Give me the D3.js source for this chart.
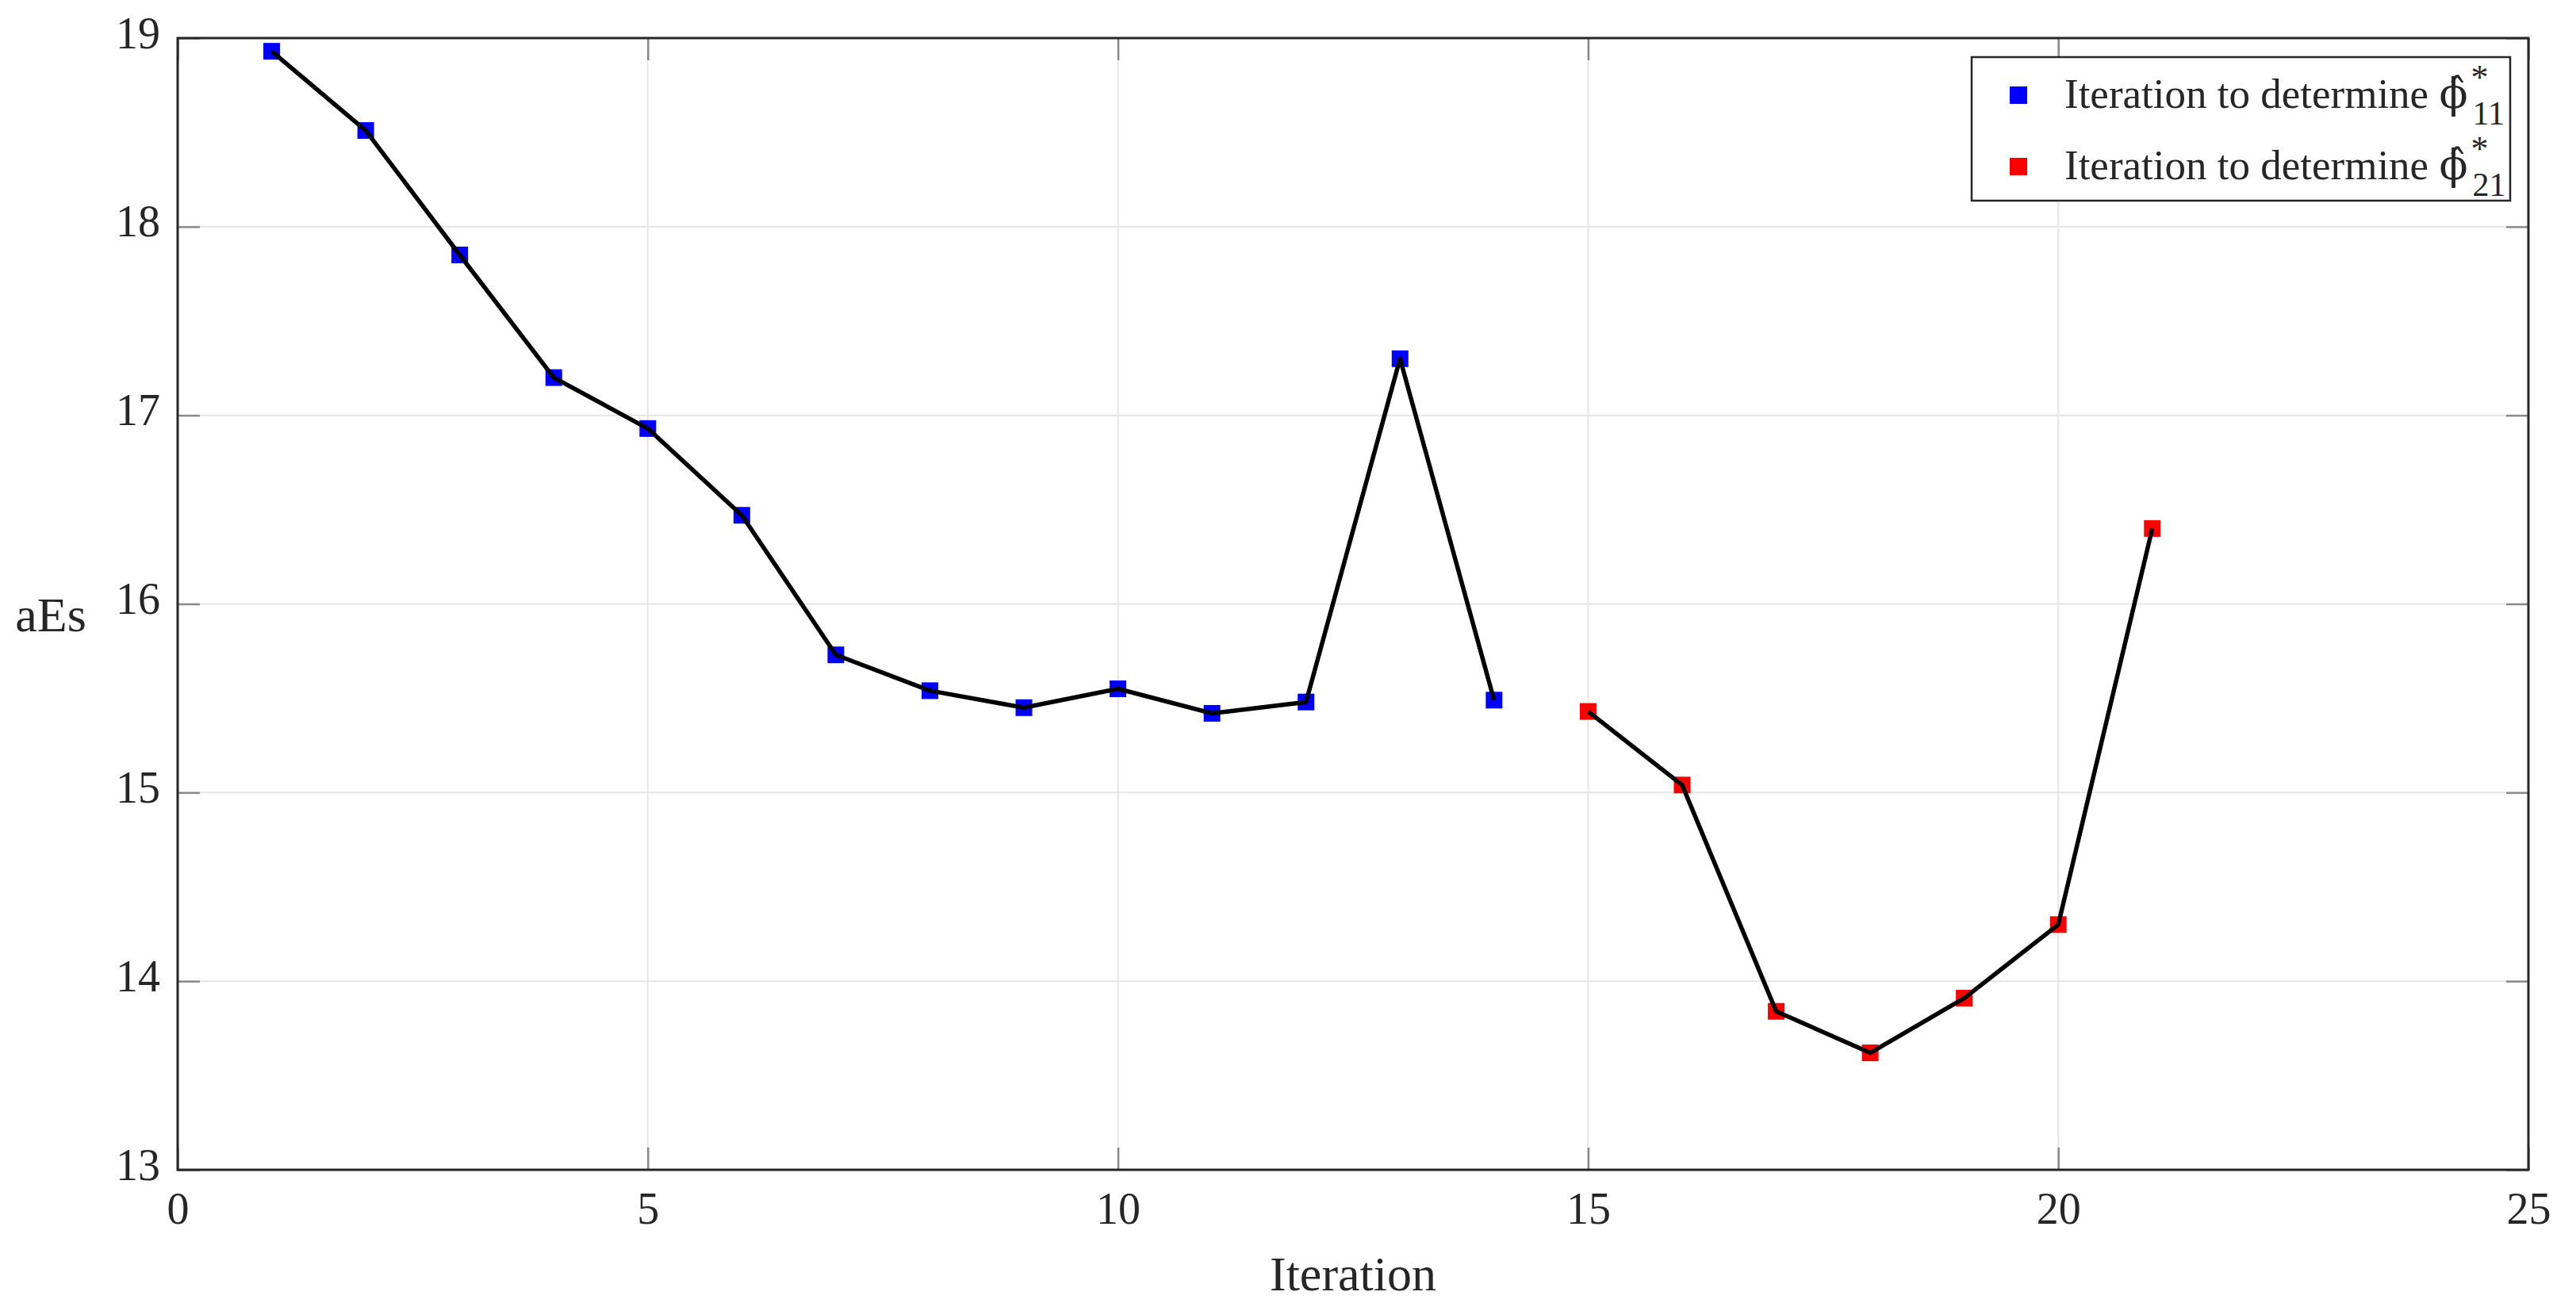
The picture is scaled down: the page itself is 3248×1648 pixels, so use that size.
<!DOCTYPE html>
<html>
<head>
<meta charset="utf-8">
<script src="https://cdn.jsdelivr.net/npm/d3@7"></script>
<style>
  html, body { margin: 0; padding: 0; background: #fff; }
  svg { display: block; }
  text { font-family: "Liberation Serif", "DejaVu Serif", serif; fill: #262626; }
</style>
</head>
<body>
<svg id="chart" width="3248" height="1648"></svg>
<script>
// ---- data ----
const iterPhi11 = [1, 2, 3, 4, 5, 6, 7, 8, 9, 10, 11, 12, 13, 14];
const aesPhi11 = [18.93, 18.51, 17.85, 17.20, 16.93, 16.47, 15.73, 15.54, 15.45, 15.55, 15.42, 15.48, 17.30, 15.49];
const iterPhi21 = [15, 16, 17, 18, 19, 20, 21];
const aesPhi21 = [15.43, 15.04, 13.84, 13.62, 13.91, 14.30, 16.40];
const xTicks = [0, 5, 10, 15, 20, 25];
const yTicks = [13, 14, 15, 16, 17, 18, 19];
const seriesNames = ["Iteration to determine ", "Iteration to determine "];
const seriesSubs = ["11", "21"];
const seriesColors = ["#0000ff", "#ff0000"];
const xLabel = "Iteration";
const yLabel = "aEs";

// ---- layout ----
const L = 224, R = 3188, T = 48, B = 1475;
const svg = d3.select("#chart");
const x = d3.scaleLinear().domain([0, 25]).range([L, R]);
const y = d3.scaleLinear().domain([13, 19]).range([B, T]);

// grid
const grid = svg.append("g");
grid.selectAll("line.gx").data(xTicks.slice(1, -1)).enter().append("line")
  .attr("x1", d => x(d)).attr("x2", d => x(d)).attr("y1", T).attr("y2", B)
  .attr("stroke", "#e6e6e6").attr("stroke-width", 2);
grid.selectAll("line.gy").data(yTicks.slice(1, -1)).enter().append("line")
  .attr("x1", L).attr("x2", R).attr("y1", d => y(d)).attr("y2", d => y(d))
  .attr("stroke", "#e6e6e6").attr("stroke-width", 2);

// axes via d3 axis (inward ticks)
const tickLen = 28;
const axB = svg.append("g").attr("transform", `translate(0,${B})`)
  .call(d3.axisBottom(x).tickValues(xTicks).tickSize(-tickLen).tickFormat(d3.format("d")));
const axT = svg.append("g").attr("transform", `translate(0,${T})`)
  .call(d3.axisTop(x).tickValues(xTicks).tickSize(-tickLen).tickFormat(""));
const axLft = svg.append("g").attr("transform", `translate(${L},0)`)
  .call(d3.axisLeft(y).tickValues(yTicks).tickSize(-tickLen).tickFormat(d3.format("d")));
const axRt = svg.append("g").attr("transform", `translate(${R},0)`)
  .call(d3.axisRight(y).tickValues(yTicks).tickSize(-tickLen).tickFormat(""));
[axB, axT, axLft, axRt].forEach(a => {
  a.select(".domain").remove();
  a.selectAll(".tick line").attr("stroke", "#8a8a8a").attr("stroke-width", 2.5);
});
axB.selectAll(".tick text").attr("y", 68).attr("dy", 0)
  .style("font-size", "56px").style("font-family", "Liberation Serif").attr("fill", "#262626");
axLft.selectAll(".tick text").attr("x", -22).attr("dy", 12)
  .style("font-size", "56px").style("font-family", "Liberation Serif").attr("fill", "#262626");

// box
svg.append("rect").attr("x", L).attr("y", T).attr("width", R - L).attr("height", B - T)
  .attr("fill", "none").attr("stroke", "#262626").attr("stroke-width", 3);

// axis labels
svg.append("text").attr("x", (L + R) / 2).attr("y", 1627).attr("text-anchor", "middle")
  .style("font-size", "62px").text(xLabel);
svg.append("text").attr("x", 64).attr("y", 796).attr("text-anchor", "middle")
  .style("font-size", "62px").text(yLabel);

// series
const series = [
  { xs: iterPhi11, ys: aesPhi11, color: seriesColors[0] },
  { xs: iterPhi21, ys: aesPhi21, color: seriesColors[1] }
];
const ms = 21;
const line = d3.line().x(d => x(d[0])).y(d => y(d[1]));
series.forEach(s => {
  const pts = s.xs.map((v, i) => [v, s.ys[i]]);
  svg.append("g").selectAll("rect").data(pts).enter().append("rect")
    .attr("x", d => x(d[0]) - ms / 2).attr("y", d => y(d[1]) - ms / 2)
    .attr("width", ms).attr("height", ms).attr("fill", s.color);
  svg.append("path").datum(pts).attr("d", line)
    .attr("fill", "none").attr("stroke", "#000").attr("stroke-width", 5.5)
    .attr("stroke-linejoin", "round");
});

// legend
const lg = svg.append("g");
lg.append("rect").attr("x", 2486).attr("y", 72).attr("width", 3165 - 2486).attr("height", 253 - 72)
  .attr("fill", "#fff").attr("stroke", "#262626").attr("stroke-width", 2.5);
const rowBase = [136, 226];
seriesNames.forEach((name, i) => {
  const base = rowBase[i];
  lg.append("rect").attr("x", 2534).attr("y", base - 16 - 11).attr("width", 22).attr("height", 22)
    .attr("fill", seriesColors[i]);
  const t = lg.append("text").attr("x", 2603).attr("y", base).style("font-size", "53px");
  t.append("tspan").text(name);
  t.append("tspan").style("font-family", "DejaVu Serif").text("ϕ\u0302");
  t.append("tspan").attr("dx", 4).attr("dy", -24).style("font-size", "44px").text("*");
  t.append("tspan").attr("dx", -20).attr("dy", 45).style("font-size", "42px").text(seriesSubs[i]);
});
</script>
</body>
</html>
